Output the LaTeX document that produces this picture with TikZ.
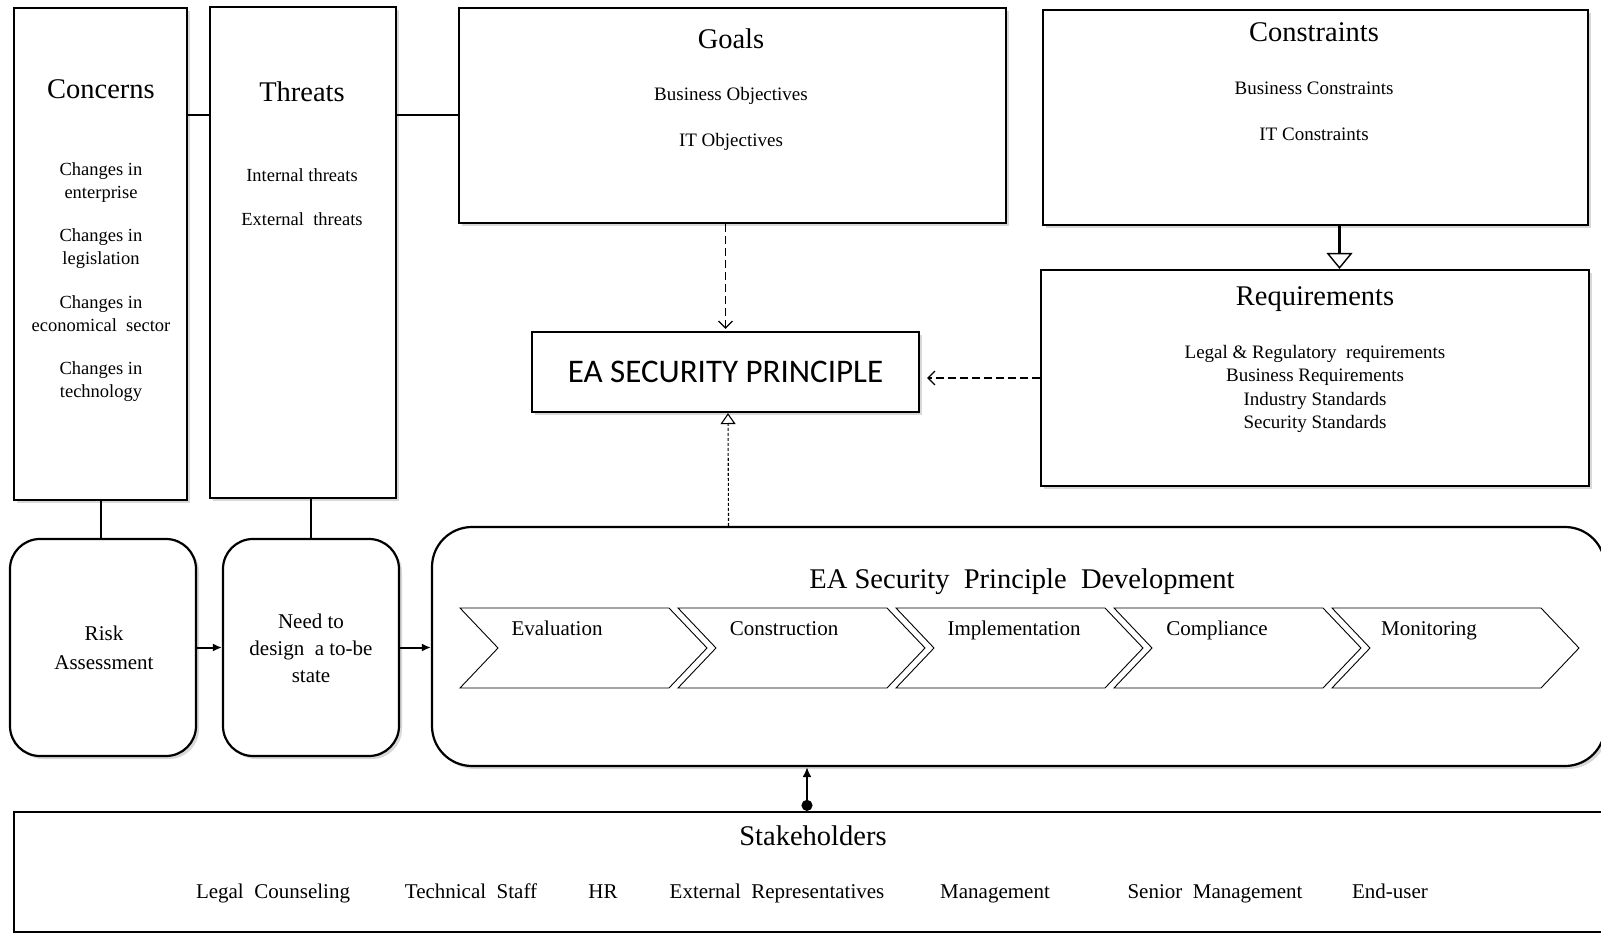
\documentclass[tikz,border=0pt]{standalone}
\usepackage{fontspec}
\setmainfont{Liberation Serif}
\newfontfamily\capsfont{Carlito}
\usetikzlibrary{arrows.meta,shadows,calc}

\tikzset{
  shade3/.style={drop shadow={shadow xshift=3pt, shadow yshift=-3pt, fill=black!60, opacity=0.25}},
  box/.style={draw, line width=2.2pt, fill=white, rectangle, inner sep=0pt, shade3},
  rbox/.style={box, rounded corners=30pt},
  ttl/.style={inner sep=0pt, font=\fontsize{28.5}{32}\selectfont},
  itm/.style={inner sep=0pt, align=center, font=\fontsize{18.5}{23}\selectfont},
  mid/.style={inner sep=0pt, align=center, font=\fontsize{21}{28}\selectfont},
  lbl/.style={inner sep=0pt, anchor=base, font=\fontsize{21}{28}\selectfont},
  chevron/.style={draw, line width=0.9pt},
  link/.style={line width=2pt},
  flow/.style={line width=2pt, -{Latex[length=9pt,width=8pt]}},
  dashlink/.style={line width=1.2pt, dash pattern=on 8pt off 4pt, -{Straight Barb[length=7pt,width=14pt,line width=1.2pt]}},
  dotlink/.style={line width=1.1pt, dash pattern=on 3pt off 2pt, -{Triangle[open, fill=white, length=11pt, width=15pt, line width=1.1pt]}},
  heavylink/.style={line width=2.2pt, -{Triangle[open, fill=white, length=16pt, width=26pt, line width=1.4pt]}},
  stakelink/.style={line width=2pt, {Circle[length=11pt]}-{Latex[length=10pt,width=9pt]}},
}

\begin{document}
\begin{tikzpicture}[x=1pt, y=-1pt]
\useasboundingbox (0,0) rectangle (1601,933);
\clip (0,0) rectangle (1601,933);
\fill[white] (0,0) rectangle (1601,933);

% main boxes
\node[box, minimum width=173pt, minimum height=492pt] (concerns) at (100.5,254) {};
\node[box, minimum width=186pt, minimum height=491pt] (threats) at (303,252.5) {};
\node[box, minimum width=547pt, minimum height=215pt] (goals) at (732.5,115.5) {};
\node[box, minimum width=545pt, minimum height=215pt] (constraints) at (1315.5,117.5) {};
\node[box, minimum width=548pt, minimum height=216pt] (requirements) at (1315,378) {};
\node[box, minimum width=387pt, minimum height=80pt] (principle) at (725.5,372)
  {\capsfont\fontsize{33}{36}\selectfont EA SECURITY PRINCIPLE};
\node[rbox, minimum width=186pt, minimum height=217pt] (risk) at (103,647.5) {};
\node[rbox, minimum width=176pt, minimum height=217pt] (need) at (311,647.5) {};
\node[box, rounded corners=40pt, minimum width=1173pt, minimum height=239pt] (dev) at (1018.5,646.5) {};
\node[draw, line width=2.2pt, fill=white, inner sep=0pt, minimum width=1598pt, minimum height=120pt] (stake) at (813,872) {};

% box texts
\node[ttl] (concernsT) at (101,89) {Concerns};
\node[itm] (c1) at (101,182.5) {Changes in\\enterprise};
\node[itm] (c2) at (101,249) {Changes in\\legislation};
\node[itm] (c3) at (101,313.5) {Changes in\\economical\ \ sector};
\node[itm] (c4) at (101,381.5) {Changes in\\technology};

\node[ttl] (threatsT) at (302,92) {Threats};
\node[itm] (t1) at (302,175) {Internal threats};
\node[itm] (t2) at (302,219) {External\ \ threats};

\node[ttl] (goalsT) at (731,39) {Goals};
\node[itm, font=\fontsize{19}{23}\selectfont] (g1) at (731,96) {Business Objectives};
\node[itm, font=\fontsize{19}{23}\selectfont] (g2) at (731,142) {IT Objectives};

\node[ttl] (constraintsT) at (1314,32) {Constraints};
\node[itm, font=\fontsize{19}{23}\selectfont] (k1) at (1314,88) {Business Constraints};
\node[itm, font=\fontsize{19}{23}\selectfont] (k2) at (1314,134) {IT Constraints};

\node[ttl] (requirementsT) at (1315,299) {Requirements};
\node[itm, font=\fontsize{19}{23.3}\selectfont] (r1) at (1315,389)
  {Legal \& Regulatory\ \ requirements\\Business Requirements\\Industry Standards\\Security Standards};

\node[mid, font=\fontsize{21}{29}\selectfont] (riskT) at (104,647.5) {Risk\\Assessment};
\node[mid, font=\fontsize{21}{27}\selectfont] (needT) at (311,648) {Need to\\design\ \ a to-be\\state};

\node[ttl] (devT) at (1022,582) {EA Security\ \ Principle\ \ Development};

% process chevrons
\foreach \k in {0,...,4} {
  \draw[chevron] ({460+218*\k},608) -- ++(209,0) -- ++(38,40) -- ++(-38,40) -- ++(-209,0) -- ++(38,-40) -- cycle;
}
\node[lbl] (ev) at (557,635) {Evaluation};
\node[lbl] (co) at (784,635) {Construction};
\node[lbl] (im) at (1014,635) {Implementation};
\node[lbl] (cp) at (1217,635) {Compliance};
\node[lbl] (mo) at (1429,635) {Monitoring};

% stakeholders
\node[ttl] (stakeT) at (813,836) {Stakeholders};
\foreach \nm/\x/\t in {s1/273/Legal\ \ Counseling, s2/471/Technical\ \ Staff, s3/603/HR,
    s4/777/External\ \ Representatives, s5/995/Management, s6/1215/Senior\ \ Management, s7/1390/End-user} {
  \node[lbl] (\nm) at (\x,898) {\t};
}

% connector end points
\coordinate (consOut) at ($(constraints.south)+(24,0)$);
\coordinate (stakeOut) at ($(stake.north)+(-6,0)$);

% connectors
\draw[link] (concerns.east |- goals.west) -- (threats.west |- goals.west);
\draw[link] (threats.east |- goals.west) -- (goals.west);
\draw[link] (concerns.south) -- (concerns.south |- risk.north);
\draw[link] (need.north |- threats.south) -- (need.north);
\draw[flow] (risk.east) -- (need.west);
\draw[flow] (need.east) -- (need.east -| dev.west);
\draw[dashlink, shorten >=2pt] (principle.north |- goals.south) -- (principle.north);
\draw[dashlink, shorten >=7pt] (requirements.west) -- (principle.east |- requirements.west);
\draw[dotlink] ($(dev.north)+(-290,0)$) -- ($(principle.south)+(2.5,0)$);
\draw[heavylink] (consOut) -- (consOut |- requirements.north);
\draw[stakelink] (stakeOut) -- (stakeOut |- dev.south);
\end{tikzpicture}
\end{document}
